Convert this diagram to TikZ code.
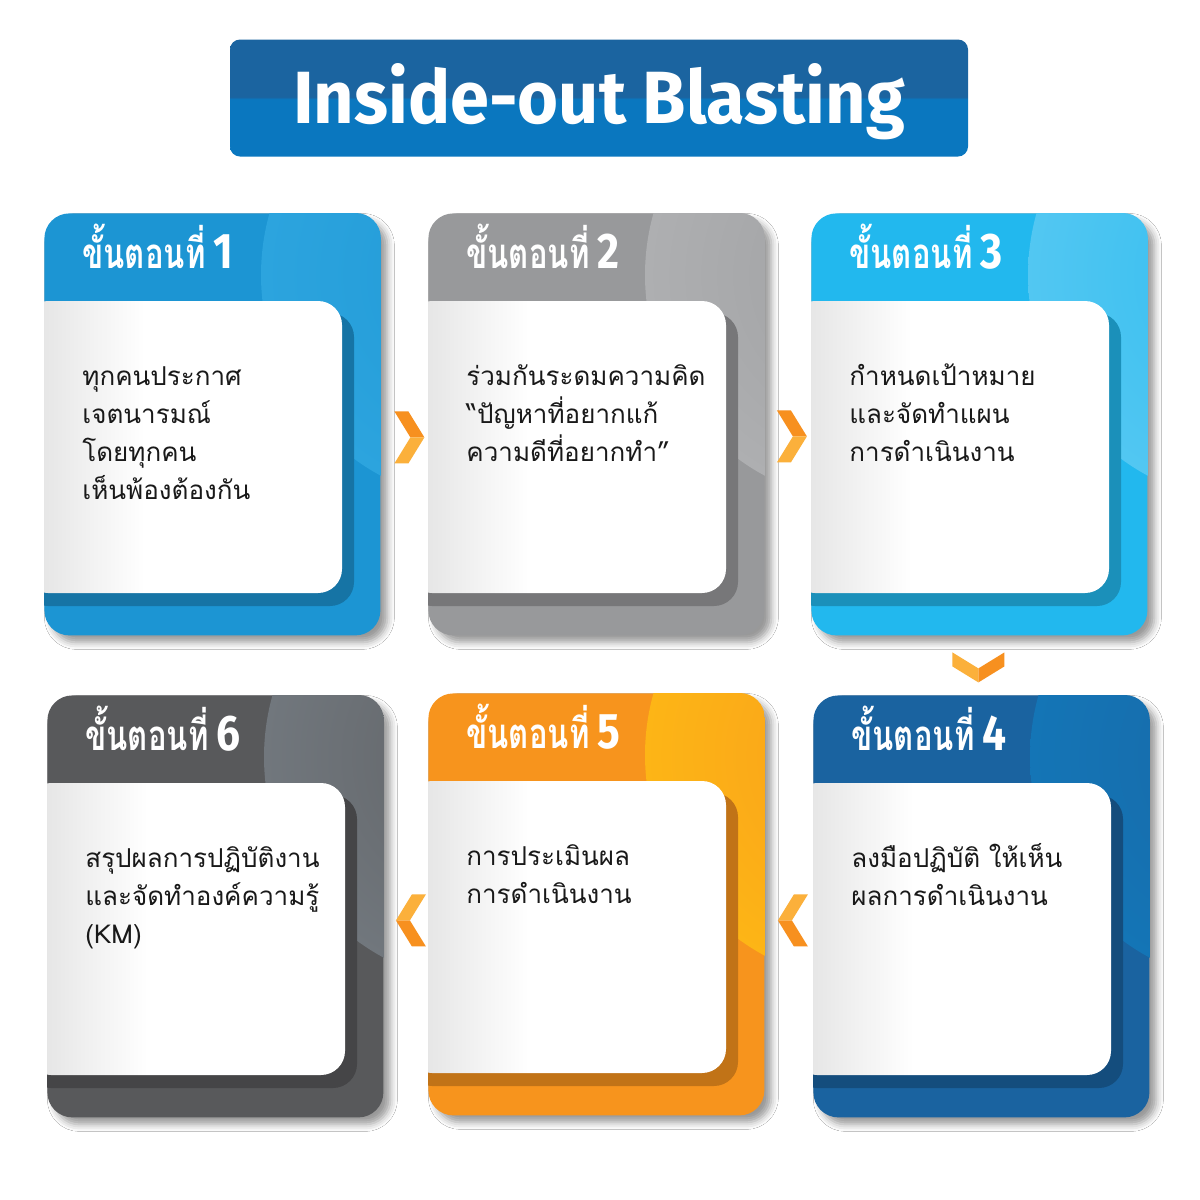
\documentclass[tikz,border=0pt]{standalone}
\usepackage{fontspec}
\setmainfont{Fira Sans}
\newfontfamily\titlefont[FakeStretch=0.95]{Fira Sans}
\newfontfamily\numfont[FakeStretch=0.85]{Fira Sans}
\newfontfamily\thai[Script=Thai]{Loma}
\newfontfamily\thaihead[Script=Thai,FakeStretch=0.74]{Loma}
\usetikzlibrary{calc}
\usetikzlibrary{shadows.blur}

\definecolor{stepA}{HTML}{1C95D3}
\definecolor{stepAhi}{HTML}{2CA4DE}
\definecolor{stepB}{HTML}{98999B}
\definecolor{stepBhi}{HTML}{AEAFB1}
\definecolor{stepC}{HTML}{22B8EE}
\definecolor{stepChi}{HTML}{52C7F2}
\definecolor{stepD}{HTML}{1A63A0}
\definecolor{stepDhi}{HTML}{1475B6}
\definecolor{stepE}{HTML}{F7941D}
\definecolor{stepEhi}{HTML}{FDB516}
\definecolor{stepF}{HTML}{58595B}
\definecolor{stepFhi}{HTML}{71777D}
\definecolor{titlehi}{HTML}{1B64A0}
\definecolor{titlelo}{HTML}{0A77BF}
\definecolor{chevdark}{HTML}{F7901F}
\definecolor{chevlight}{HTML}{FBB03B}
\colorlet{cardbase}{stepA}
\colorlet{cardhi}{stepAhi}

% shadings: the box 25bp..75bp is fitted to the path
\pgfdeclareverticalshading{twotone}{100bp}{color(0bp)=(titlelo); color(49.5bp)=(titlelo);
  color(50.5bp)=(titlehi); color(100bp)=(titlehi)}
\pgfdeclarehorizontalshading{panel}{100bp}{color(0bp)=(black!12); color(26bp)=(black!11);
  color(44bp)=(white); color(100bp)=(white)}
\pgfdeclareradialshading[cardbase,cardhi]{glow}{\pgfpoint{0bp}{0bp}}{color(0bp)=(cardhi!35!cardbase);
  color(25bp)=(cardhi); color(50bp)=(cardhi)}

\newcommand\bodyfont{\thai\fontsize{13pt}{19pt}\selectfont}
\newcommand\steptitle[1]{{\thaihead\bfseries\fontsize{21pt}{24pt}\selectfont ขั้นตอนที่}\hspace{4pt}%
  {\numfont\bfseries\fontsize{25pt}{25pt}\selectfont #1}}

\tikzset{
  titlebox/.style={rectangle, rounded corners=5pt, minimum width=369pt, minimum height=58.5pt,
    text height=25.5pt, text depth=0pt, shading=twotone, text=white,
    font=\titlefont\bfseries\fontsize{37pt}{40pt}\selectfont},
  card/.style={rectangle, rounded corners=12.5pt, anchor=north west, inner sep=0pt,
    minimum width=168pt, minimum height=211pt, fill=#1,
    blur shadow={shadow xshift=3.5pt, shadow yshift=-3.5pt, shadow blur radius=3.5pt, shadow opacity=40}},
  panelshadow/.style={fill=cardbase!78!black, rounded corners=12pt},
  head/.style={anchor=base west, inner sep=0pt, text=white},
  body/.style={anchor=base west, inner sep=0pt, align=left, text=black!90, font=\bodyfont},
  chev/.pic={
    \fill[chevdark] (-15,-26) -- (-1,-26) -- (15,0) -- (1,0) -- cycle;
    \fill[chevlight] (1,0) -- (15,0) -- (-1,26) -- (-15,26) -- cycle;
  },
}

\begin{document}
\begin{tikzpicture}[x=0.5pt,y=-0.5pt]
  \useasboundingbox (0,0) rectangle (1200,1200);
  \fill[white] (0,0) rectangle (1200,1200);

  \node[titlebox, shade] (title) at (599,98) {Inside-out Blasting};

  % \nl = number of lines, the node's base is the last one
  \foreach \n/\x/\y/\cb/\ch/\nl/\txt in {
      1/44/213/stepA/stepAhi/4/{ทุกคนประกาศ\\เจตนารมณ์\\โดยทุกคน\\เห็นพ้องต้องกัน},
      2/428/213/stepB/stepBhi/3/{ร่วมกันระดมความคิด\\“ปัญหาที่อยากแก้\\ความดีที่อยากทำ”},
      3/811/213/stepC/stepChi/3/{กำหนดเป้าหมาย\\และจัดทำแผน\\การดำเนินงาน},
      4/813/695/stepD/stepDhi/2/{ลงมือปฏิบัติ ให้เห็น\\ผลการดำเนินงาน},
      5/428/693/stepE/stepEhi/2/{การประเมินผล\\การดำเนินงาน},
      6/47/695/stepF/stepFhi/3/{สรุปผลการปฏิบัติงาน\\และจัดทำองค์ความรู้\\(KM)}}{
    \colorlet{cardbase}{\cb}
    \colorlet{cardhi}{\ch}
    \node[card=\cb] (s\n) at (\x,\y) {};
    \begin{scope}
      \clip[rounded corners=12.5pt] (s\n.north west) rectangle (s\n.south east);
      \shade[shading=glow] ($(s\n.north west)+(445,62)$) circle[radius=228];
      \fill[panelshadow] ($(s\n.north west)+(-20,100)$) rectangle ($(s\n.north west)+(310,393)$);
      \shade[shading=panel, rounded corners=12pt]
        ($(s\n.north west)+(-20,88)$) rectangle ($(s\n.north west)+(298,380)$);
    \end{scope}
    \node[head] (h\n) at ($(s\n.north west)+(38,55)$) {\steptitle{\n}};
    \node[body] (t\n) at ($(s\n.north west)+(38,{172+38*(\nl-1)})$) {\txt};
  }

  % arrows between the steps
  \pic at ($(s1.east)!0.5!(s2.west)+(5,13)$) {chev};
  \pic at ($(s2.east)!0.5!(s3.west)+(4,12)$) {chev};
  \pic[rotate=-90] at ($(s3.south)!0.5!(s4.north)+(-2,2)$) {chev};
  \pic[rotate=180] at ($(s4.west)!0.5!(s5.east)+(4,15)$) {chev};
  \pic[rotate=180] at ($(s5.west)!0.5!(s6.east)+(5,15)$) {chev};
\end{tikzpicture}
\end{document}
